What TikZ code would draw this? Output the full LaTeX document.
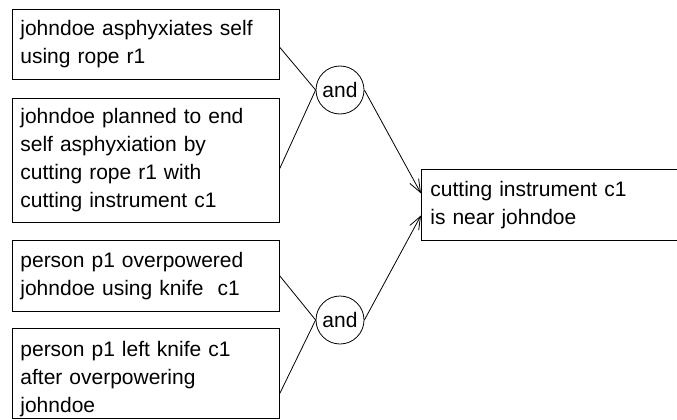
\documentclass[tikz,border=0pt]{standalone}
\usepackage{fontspec}
\setmainfont{Liberation Sans}
\usetikzlibrary{arrows.meta}
\begin{document}
\begin{tikzpicture}[x=1pt,y=-1pt,line width=0.8pt,
  box/.style={draw, rectangle, anchor=north west, align=left, text width=251pt,
    inner xsep=8pt, inner ysep=0pt, font=\fontsize{21}{28}\selectfont},
  andnode/.style={draw, circle, minimum size=48pt, inner sep=0pt,
    font=\fontsize{21}{28}\selectfont},
  arr/.style={-{Straight Barb[length=13pt,width=10pt]}}]
\useasboundingbox (0,0) rectangle (677,420);

\node[box, minimum height=70pt] (1) at (12,9) {johndoe asphyxiates self\\using rope r1};
\node[box, minimum height=124pt] (2) at (12,98) {johndoe planned to end\\self asphyxiation by\\cutting rope r1 with\\cutting instrument c1};
\node[box, minimum height=71pt] (3) at (12,240) {person p1 overpowered\\johndoe using knife\ \ c1};
\node[box, minimum height=90pt] (4) at (12,328) {\rule{0pt}{26pt}person p1 left knife c1\\after overpowering\\johndoe};
\node[andnode] (5) at (340,90) {and};
\node[andnode] (6) at (340,320) {and};
\node[box, minimum height=71pt, text width=262pt, inner xsep=9pt] (7) at (421,169) {cutting instrument c1\\is near johndoe};

\path[draw] ([yshift=-3pt]1.east) -- (5.west);
\path[draw] ([yshift=-8pt]2.east) -- (5.west);
\path[draw] (3.east) -- (6.west);
\path[draw] ([yshift=-20pt]4.east) -- (6.west);
\path[draw,arr] (5.east) -- ([yshift=11.5pt]7.west);
\path[draw,arr] (6.east) -- ([yshift=-10.5pt]7.west);
\end{tikzpicture}
\end{document}
